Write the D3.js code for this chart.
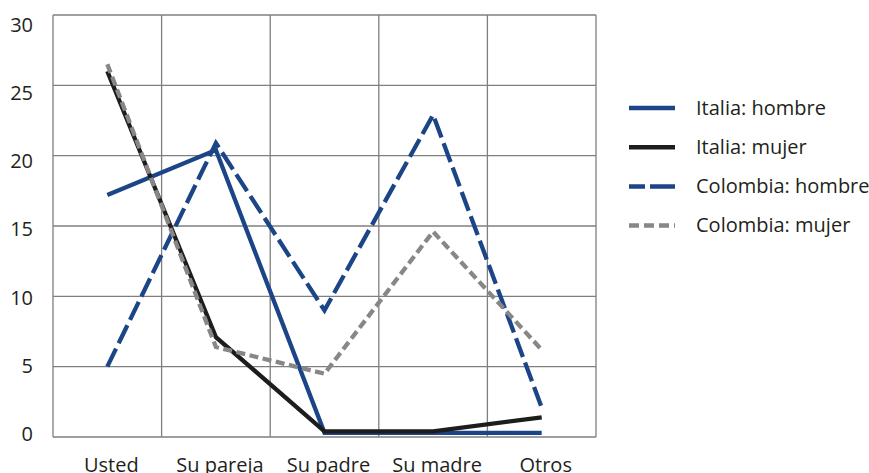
<!DOCTYPE html>
<html>
<head>
<meta charset="utf-8">
<script src="https://cdn.jsdelivr.net/npm/d3@7"></script>
<style>
  body { margin: 0; background: #fff; }
  svg text { font-family: "Open Sans", sans-serif; fill: #231f20; }
</style>
</head>
<body>
<div class="chart"></div>
<script>
// categories and values
var categories = ["Usted", "Su pareja", "Su padre", "Su madre", "Otros"];
var yTicks = [0, 5, 10, 15, 20, 25, 30];

var italiaHombre   = [17.2, 20.4, 0.3, 0.3, 0.3];
var italiaMujer    = [26.0, 7.1, 0.4, 0.4, 1.4];
var colombiaHombre = [5.0, 20.9, 9.0, 22.9, 2.1];
var colombiaMujer  = [26.5, 6.4, 4.5, 14.6, 6.2];

var seriesNames = ["Italia: hombre", "Italia: mujer", "Colombia: hombre", "Colombia: mujer"];

var series = [
    { name: seriesNames[0], values: italiaHombre,   color: "#1c4587", dash: null },
    { name: seriesNames[1], values: italiaMujer,    color: "#1d1d1b", dash: null },
    { name: seriesNames[2], values: colombiaHombre, color: "#1c4587", dash: "20,6" },
    { name: seriesNames[3], values: colombiaMujer,  color: "#878787", dash: "9,4.5" }
];

var margin = { top: 15, right: 273, bottom: 36, left: 53 };
var width = 869 - margin.left - margin.right,
    height = 473 - margin.top - margin.bottom;

var svg = d3.select(".chart").append("svg")
    .attr("width", 869)
    .attr("height", 473);

var g = svg.append("g")
    .attr("transform", "translate(" + margin.left + "," + margin.top + ")");

var x = d3.scaleBand()
    .domain(categories)
    .range([0, width]);

var y = d3.scaleLinear()
    .domain([0, 30])
    .range([height, 0]);

// tick labels sit on their own slightly tighter spacing in the original
var yLabel = d3.scaleLinear()
    .domain([0, 30])
    .range([height - 3, 10]);

// grid
g.append("g").attr("class", "grid-y")
    .selectAll("line")
    .data(yTicks)
    .enter().append("line")
    .attr("x1", 0).attr("x2", width)
    .attr("y1", function(d) { return y(d); })
    .attr("y2", function(d) { return y(d); })
    .attr("stroke", "#7f7f7f")
    .attr("stroke-width", 1.3);

var xEdges = categories.map(function(c) { return x(c); }).concat([width]);
g.append("g").attr("class", "grid-x")
    .selectAll("line")
    .data(xEdges)
    .enter().append("line")
    .attr("x1", function(d) { return d; })
    .attr("x2", function(d) { return d; })
    .attr("y1", 0).attr("y2", height)
    .attr("stroke", "#7f7f7f")
    .attr("stroke-width", 1.3);

// axes (labels only)
var yAxis = d3.axisLeft(yLabel)
    .tickValues(yTicks)
    .tickSize(0)
    .tickPadding(20);

g.append("g")
    .attr("class", "y-axis")
    .call(yAxis)
    .call(function(s) { s.select(".domain").remove(); })
    .selectAll("text")
    .attr("font-size", 20)
    .attr("font-family", "Open Sans, sans-serif")
    .attr("fill", "#231f20");

var xAxis = d3.axisBottom(x)
    .tickSize(0)
    .tickPadding(21);

g.append("g")
    .attr("class", "x-axis")
    .attr("transform", "translate(4," + height + ")")
    .call(xAxis)
    .call(function(s) { s.select(".domain").remove(); })
    .selectAll("text")
    .attr("font-size", 20)
    .attr("font-family", "Open Sans, sans-serif")
    .attr("fill", "#231f20");

// lines
var line = d3.line()
    .x(function(d, i) { return x(categories[i]) + x.bandwidth() / 2; })
    .y(function(d) { return y(d); });

g.selectAll(".series")
    .data(series)
    .enter().append("path")
    .attr("class", "series")
    .attr("d", function(d) { return line(d.values); })
    .attr("fill", "none")
    .attr("stroke", function(d) { return d.color; })
    .attr("stroke-width", 4.3)
    .attr("stroke-dasharray", function(d) { return d.dash; })
    .attr("stroke-linejoin", "miter");

// legend
var legend = svg.append("g")
    .attr("transform", "translate(629,108)");

var item = legend.selectAll(".item")
    .data(series)
    .enter().append("g")
    .attr("class", "item")
    .attr("transform", function(d, i) { return "translate(0," + (i * 39.2) + ")"; });

item.append("line")
    .attr("x1", 0).attr("x2", 46)
    .attr("y1", 0).attr("y2", 0)
    .attr("stroke", function(d) { return d.color; })
    .attr("stroke-width", 4.5)
    .attr("stroke-dasharray", function(d) { return d.dash ? (d.dash === "20,6" ? "16,5,25" : "10,5") : null; });

item.append("text")
    .attr("x", 67)
    .attr("y", 6.5)
    .attr("font-size", 20)
    .text(function(d) { return d.name; });
</script>
</body>
</html>
